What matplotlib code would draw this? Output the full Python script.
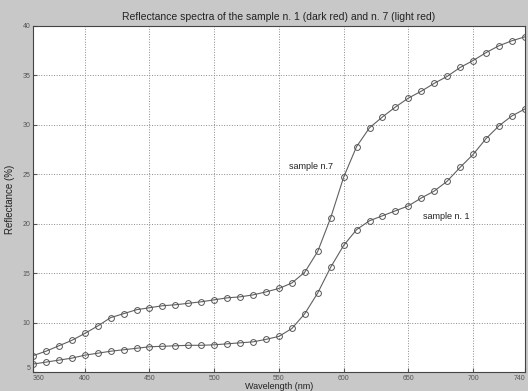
import matplotlib
matplotlib.use('Agg')
import matplotlib.pyplot as plt
import numpy as np

plt.rcParams['font.family'] = ['Liberation Sans', 'DejaVu Sans']

wavelength = list(range(360, 750, 10))
sample1 = [5.8, 6.0, 6.2, 6.4, 6.7, 6.9, 7.1, 7.25, 7.4, 7.55,
           7.6, 7.65, 7.7, 7.7, 7.75, 7.85, 7.95, 8.05, 8.3, 8.6,
           9.4, 10.9, 13.0, 15.6, 17.8, 19.4, 20.3, 20.8, 21.3, 21.8,
           22.6, 23.3, 24.3, 25.7, 27.0, 28.6, 29.9, 30.9, 31.6]
sample7 = [6.65, 7.1, 7.65, 8.2, 8.9, 9.65, 10.5, 10.9, 11.3, 11.5,
           11.7, 11.8, 11.95, 12.1, 12.3, 12.5, 12.6, 12.8, 13.1, 13.45,
           14.0, 15.1, 17.2, 20.6, 24.7, 27.8, 29.7, 30.8, 31.8, 32.7,
           33.4, 34.2, 34.9, 35.8, 36.5, 37.3, 38.0, 38.5, 38.9]
xticks = [360, 400, 450, 500, 550, 600, 650, 700, 740]
yticks = [5, 10, 15, 20, 25, 30, 35, 40]

fig = plt.figure(figsize=(5.28, 3.91), dpi=100, facecolor='#c8c8c8')
ax = fig.add_axes([0.0625, 0.0486, 0.9315, 0.885])

for y in (sample1, sample7):
    ax.plot(wavelength, y, color='#606060', lw=0.8, marker='o', ms=4.2,
            mfc='none', mec='#555555', mew=0.7)

ax.set_xlim(360, 740)
ax.set_ylim(5, 40)
ax.set_xticks(xticks)
ax.set_yticks(yticks)
ax.tick_params(direction='in', labelsize=5, length=3, colors='#555555', pad=2)
ax.get_xticklabels()[-1].set_horizontalalignment('right')
ax.get_xticklabels()[0].set_horizontalalignment('left')
ax.get_yticklabels()[0].set_verticalalignment('bottom')
ax.grid(True, ls=':', color='#8a8a8a', lw=0.7)
for s in ax.spines.values():
    s.set_color('#444444')
    s.set_linewidth(0.8)

ax.text(558, 25.8, 'sample n.7', fontsize=6.5, ha='left', va='center', color='#222222')
ax.text(661, 20.7, 'sample n. 1', fontsize=6.5, ha='left', va='center', color='#222222')

ax.set_title('Reflectance spectra of the sample n. 1 (dark red) and n. 7 (light red)',
             fontsize=7.5, color='#222222', pad=4)
ax.set_xlabel('Wavelength (nm)', fontsize=6.5, color='#222222', labelpad=0)
ax.set_ylabel('Reflectance (%)', fontsize=7, color='#222222', labelpad=5)

fig.savefig('out.png', dpi=100, facecolor=fig.get_facecolor())
